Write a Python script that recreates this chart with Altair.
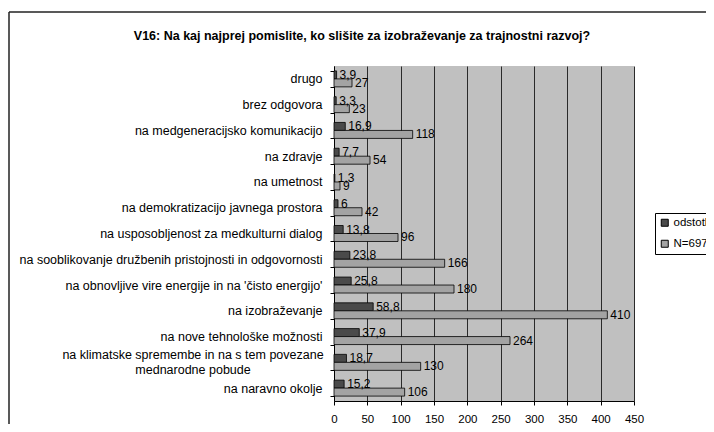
import altair as alt
import pandas as pd

categories = [
    "drugo",
    "brez odgovora",
    "na medgeneracijsko komunikacijo",
    "na zdravje",
    "na umetnost",
    "na demokratizacijo javnega prostora",
    "na usposobljenost za medkulturni dialog",
    "na sooblikovanje družbenih pristojnosti in odgovornosti",
    "na obnovljive vire energije in na 'čisto energijo'",
    "na izobraževanje",
    "na nove tehnološke možnosti",
    "na klimatske spremembe in na s tem povezane|mednarodne pobude",
    "na naravno okolje",
]
odstotki = [3.9, 3.3, 16.9, 7.7, 1.3, 6, 13.8, 23.8, 25.8, 58.8, 37.9, 18.7, 15.2]
n697 = [27, 23, 118, 54, 9, 42, 96, 166, 180, 410, 264, 130, 106]
series_names = ["odstotki", "N=697"]
x_ticks = [0, 50, 100, 150, 200, 250, 300, 350, 400, 450]
title_text = "V16: Na kaj najprej pomislite, ko slišite za izobraževanje za trajnostni razvoj?"


def fmt(v):
    if float(v).is_integer():
        return str(int(v))
    return str(v).replace(".", ",")


rows = []
for c, a, b in zip(categories, odstotki, n697):
    rows.append({"category": c, "series": series_names[0], "value": a, "label": fmt(a)})
    rows.append({"category": c, "series": series_names[1], "value": b, "label": fmt(b)})
df = pd.DataFrame(rows)
wrapped = pd.DataFrame({"category": [c for c in categories if "|" in c]})

FONT = "Liberation Sans"

x_axis = alt.Axis(
    values=x_ticks,
    grid=True,
    gridColor="#2a2a2a",
    gridWidth=1,
    domainColor="black",
    tickColor="black",
    tickSize=4,
    labelPadding=8,
    labelFontSize=11.5,
    labelColor="black",
    labelFont=FONT,
    labelOverlap=False,
    labelFlush=False,
    title=None,
)
y_axis = alt.Axis(
    title=None,
    tickBand="extent",
    tickSize=4,
    tickColor="black",
    domainColor="black",
    labelPadding=8,
    labelFontSize=12.5,
    labelColor="black",
    labelFont=FONT,
    labelLimit=400,
    labelOverlap=False,
    labelExpr="indexof(datum.label, '|') >= 0 ? '' : datum.label",
)
x_scale = alt.Scale(domain=[0, 450], nice=False)
y_scale = alt.Scale(paddingInner=0.38, paddingOuter=0.19)
yoff = alt.YOffset("series:N", sort=series_names, scale=alt.Scale(domain=series_names))

bars = alt.Chart(df).mark_bar(stroke="black", strokeWidth=0.8).encode(
    x=alt.X("value:Q", scale=x_scale, axis=x_axis),
    y=alt.Y("category:N", sort=categories, scale=y_scale, axis=y_axis),
    yOffset=yoff,
    color=alt.Color(
        "series:N",
        scale=alt.Scale(domain=series_names, range=["#4a4a4a", "#a3a3a3"]),
        legend=alt.Legend(
            title=None,
            orient="none",
            legendX=321,
            legendY=147,
            strokeColor="black",
            fillColor="white",
            padding=4,
            symbolType="square",
            symbolSize=49,
            symbolStrokeColor="black",
            symbolStrokeWidth=1,
            labelFontSize=11.5,
            labelFont=FONT,
            labelColor="black",
            labelOffset=3,
            rowPadding=8,
        ),
    ),
)

labels = alt.Chart(df).mark_text(
    align="left", baseline="middle", dx=3, fontSize=12, font=FONT, color="black"
).encode(
    x=alt.X("value:Q", scale=x_scale, axis=x_axis),
    y=alt.Y("category:N", sort=categories, scale=y_scale, axis=y_axis),
    yOffset=yoff,
    text="label:N",
)

wrapped_label = alt.Chart(wrapped).transform_calculate(
    lines="split(datum.category, '|')"
).mark_text(
    align="center", baseline="middle", dy=-7.5, lineHeight=15, fontSize=12.5, font=FONT, color="black"
).encode(
    x=alt.value(-141),
    y=alt.Y("category:N", sort=categories, scale=y_scale, axis=y_axis),
    text="lines:N",
)

title_mark = alt.Chart(alt.Data(values=[{"t": title_text}])).mark_text(
    align="center", baseline="middle", fontSize=12.5, fontWeight="bold", font=FONT, color="black"
).encode(x=alt.value(28), y=alt.value(-30), text="t:N")

frame_top = alt.Chart(alt.Data(values=[{}])).mark_rule(color="#222222", strokeWidth=1.5).encode(
    x=alt.value(-325), x2=alt.value(420), y=alt.value(-54)
)
frame_left = alt.Chart(alt.Data(values=[{}])).mark_rule(color="#222222", strokeWidth=1.5).encode(
    x=alt.value(-325), y=alt.value(-54), y2=alt.value(420)
)

chart = (
    alt.layer(bars, labels, wrapped_label, title_mark, frame_top, frame_left)
    .properties(
        width=300,
        height=335,
        padding={"left": 326, "top": 58, "right": 72, "bottom": 23},
        autosize=alt.AutoSizeParams(type="none"),
    )
    .configure_view(strokeWidth=0, fill="#c0c0c0")
)

chart.save("out.html", embed_options={"renderer": "svg", "actions": False})
